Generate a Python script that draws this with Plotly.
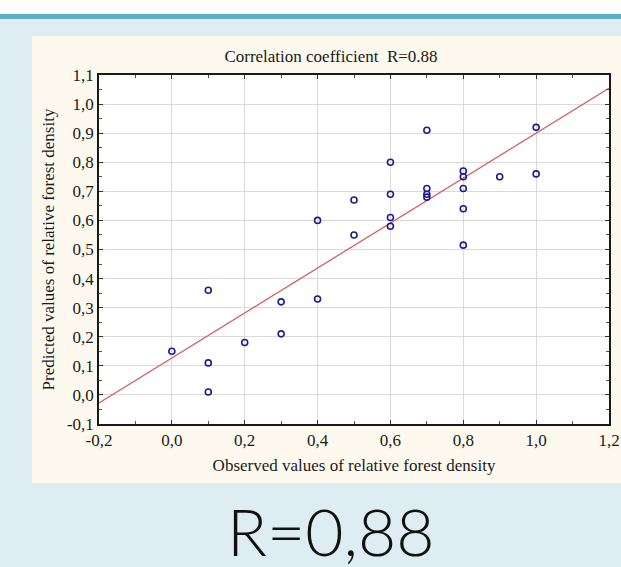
import plotly.graph_objects as go

# Observed (x) and predicted (y) relative forest density
observed = [0.0, 0.1, 0.1, 0.1, 0.2, 0.3, 0.3, 0.4, 0.4, 0.5, 0.5,
            0.6, 0.6, 0.6, 0.6, 0.7, 0.7, 0.7, 0.7,
            0.8, 0.8, 0.8, 0.8, 0.8, 0.9, 1.0, 1.0]
predicted = [0.15, 0.36, 0.11, 0.01, 0.18, 0.32, 0.21, 0.33, 0.60, 0.67, 0.55,
             0.80, 0.69, 0.61, 0.58, 0.91, 0.71, 0.69, 0.68,
             0.77, 0.75, 0.71, 0.64, 0.515, 0.75, 0.92, 0.76]

# Regression line
fit_intercept = 0.127
fit_slope = 0.773
line_x = [-0.2, 1.2]
line_y = [fit_intercept + fit_slope * v for v in line_x]

x_tickvals = [-0.2, 0.0, 0.2, 0.4, 0.6, 0.8, 1.0, 1.2]
x_ticktext = ["-0,2", "0,0", "0,2", "0,4", "0,6", "0,8", "1,0", "1,2"]
y_tickvals = [-0.1, 0.0, 0.1, 0.2, 0.3, 0.4, 0.5, 0.6, 0.7, 0.8, 0.9, 1.0, 1.1]
y_ticktext = ["-0,1", "0,0", "0,1", "0,2", "0,3", "0,4", "0,5", "0,6",
              "0,7", "0,8", "0,9", "1,0", "1,1"]

title_text = "Correlation coefficient  R=0.88"
x_title = "Observed values of relative forest density"
y_title = "Predicted values of relative forest density"
big_label = "R=0,88"

W, H = 621, 567
PL, PR, PT, PB = 99, 609, 75, 424   # plot-area edges in pixels


def px(xp):
    return xp / W


def py(yp):
    return 1 - yp / H


fig = go.Figure()
fig.add_trace(go.Scatter(x=line_x, y=line_y, mode="lines",
                         line=dict(color="#d06060", width=1.3),
                         hoverinfo="skip", showlegend=False))
fig.add_trace(go.Scatter(x=observed, y=predicted, mode="markers",
                         marker=dict(symbol="circle-open", size=6,
                                     color="#1c1c8e", line=dict(width=1.6)),
                         showlegend=False))

serif = "Liberation Serif, Times New Roman, serif"
shapes = [
    dict(type="rect", xref="paper", yref="paper", layer="below",
         x0=0, x1=1, y0=py(0), y1=py(14),
         fillcolor="#ffffff", line=dict(width=0)),
    dict(type="rect", xref="paper", yref="paper", layer="below",
         x0=0, x1=1, y0=py(14), y1=py(19),
         fillcolor="#5aaec6", line=dict(width=0)),
    dict(type="rect", xref="paper", yref="paper", layer="below",
         x0=px(32), x1=1, y0=py(36), y1=py(483),
         fillcolor="#fdf9ee", line=dict(width=0)),
    dict(type="rect", xref="paper", yref="paper", layer="below",
         x0=px(PL), x1=px(PR), y0=py(PB), y1=py(PT),
         fillcolor="#ffffff", line=dict(width=0)),
]

axis_common = dict(
    showline=True, linecolor="#1a1a1a", linewidth=1.5, mirror="ticks",
    showgrid=True, gridcolor="#dadada", gridwidth=1,
    ticks="inside", ticklen=4, tickcolor="#333333", tickwidth=1,
    zeroline=False, automargin=False,
    tickfont=dict(family=serif, size=17, color="#1a1a1a"),
)

fig.update_layout(
    width=W, height=H,
    margin=dict(l=0, r=0, t=0, b=0),
    paper_bgcolor="#deedf2",
    plot_bgcolor="#ffffff",
    shapes=shapes,
    title=dict(text=title_text, x=px(331), xanchor="center",
               y=py(56), yanchor="middle",
               xref="paper", yref="paper",
               font=dict(family=serif, size=17, color="#1a1a1a")),
    xaxis=dict(axis_common, range=[-0.2, 1.2], domain=[px(PL), px(PR)],
               tickmode="array", tickvals=x_tickvals, ticktext=x_ticktext,
               minor=dict(tickmode="linear", tick0=-0.2, dtick=0.1,
                          ticks="inside", ticklen=3,
                          tickcolor="#555555", showgrid=False),
               title=dict(text=x_title, standoff=10,
                          font=dict(family=serif, size=17, color="#1a1a1a"))),
    yaxis=dict(axis_common, range=[-0.1, 1.1], domain=[py(PB), py(PT)],
               tickmode="array", tickvals=y_tickvals, ticktext=y_ticktext,
               minor=dict(tickmode="linear", tick0=-0.1, dtick=0.05,
                          ticks="inside", ticklen=3,
                          tickcolor="#555555", showgrid=False),
               title=dict(text=y_title, standoff=8,
                          font=dict(family=serif, size=17, color="#1a1a1a"))),
    annotations=[
        dict(text=big_label, xref="paper", yref="paper",
             x=px(331), y=py(530), xanchor="center", yanchor="middle",
             showarrow=False,
             font=dict(family="Lato, Noto Sans, sans-serif", size=66,
                       color="#111111", weight=300)),
    ],
)

fig.write_html(
    "out.html",
    config={"displayModeBar": False},
    post_script="document.body.style.margin='0';"
                "document.body.style.overflow='hidden';",
)
